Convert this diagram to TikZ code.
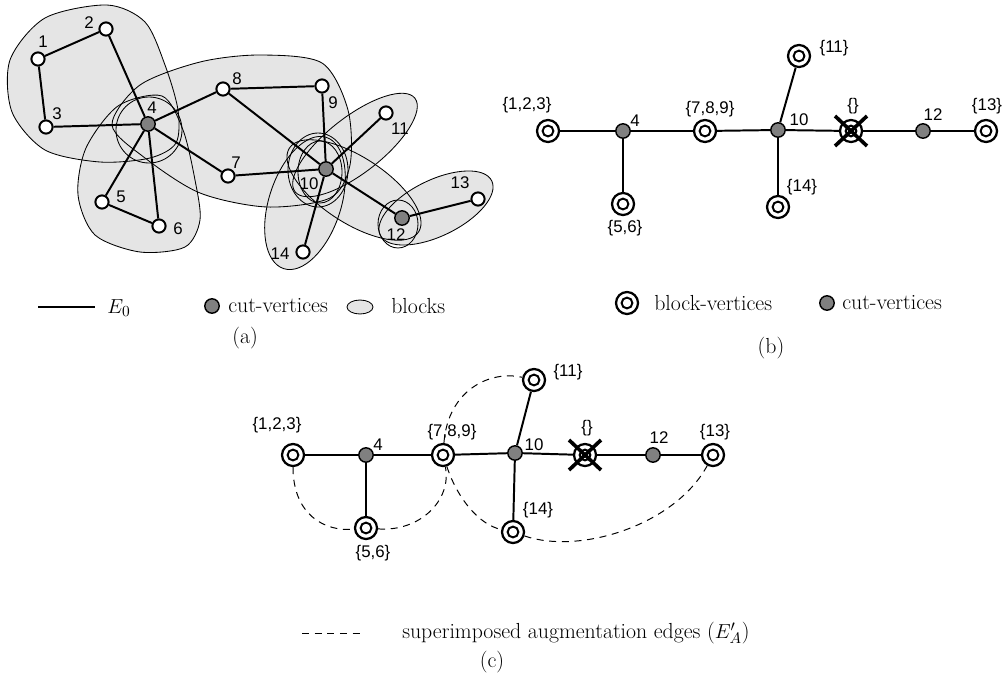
\documentclass[tikz,border=0pt]{standalone}
\usepackage{fontspec}
\newfontfamily\arialfont{Liberation Sans}
\tikzset{
  vtx/.style={circle, draw, fill=white, line width=1.4pt, minimum size=0.33cm, inner sep=0pt},
  cutv/.style={circle, draw, fill=gray, line width=1pt, minimum size=0.36cm, inner sep=0pt},
  blockv/.style={circle, draw, fill=white, line width=1.6pt, minimum size=0.55cm, inner sep=0pt,
    path picture={\draw[line width=1.4pt] (path picture bounding box.center) circle (0.135cm);}},
  lbl/.style={font=\arialfont\fontsize{12}{14}\selectfont, inner sep=0pt},
  txt/.style={font=\fontsize{15.5}{18}\selectfont\addfontfeatures{LetterSpace=5}, inner sep=0pt},
  tedge/.style={line width=1.4pt},
  blobline/.style={line width=0.6pt},
  aug/.style={line width=0.7pt, dash pattern=on 5pt off 4pt},
}
\begin{document}
\begin{tikzpicture}[x=0.025cm, y=-0.025cm]
    \useasboundingbox (0,0) rectangle (1007,684);

    % (a) blocks, filled first
    \def\blobA{plot[smooth cycle] coordinates {(107,5) (145,22) (165,65) (178,110) (176,143) (150,158) (100,162) (45,150) (12,112) (10,60) (45,18)}}
    \def\blobB{plot[smooth cycle] coordinates {(118,106) (162,96) (183,130) (195,180) (200,220) (185,247) (140,252) (95,235) (78,195) (86,148)}}
    \def\blobC{plot[smooth cycle] coordinates {(112,125) (140,85) (200,62) (260,55) (322,63) (348,110) (350,165) (330,198) (267,207) (200,193) (145,158)}}
    \fill[gray!20] \blobA;
    \fill[gray!20] \blobB;
    \fill[gray!20] \blobC;
    \fill[gray!20, rotate around={38:(355,145)}] (355,145) ellipse [x radius=76, y radius=28];
    \fill[gray!20, rotate around={72:(305,203)}] (305,203) ellipse [x radius=69, y radius=36];
    \fill[gray!20, rotate around={-33:(354,190)}] (354,190) ellipse [x radius=77, y radius=33];
    \fill[gray!20, rotate around={26:(436,208)}] (436,208) ellipse [x radius=62, y radius=28];

    % (a) block outlines
    \draw[blobline] \blobA;
    \draw[blobline] \blobB;
    \draw[blobline] \blobC;
    \draw[blobline, rotate around={38:(355,145)}] (355,145) ellipse [x radius=76, y radius=28];
    \draw[blobline, rotate around={72:(305,203)}] (305,203) ellipse [x radius=69, y radius=36];
    \draw[blobline, rotate around={-33:(354,190)}] (354,190) ellipse [x radius=77, y radius=33];
    \draw[blobline, rotate around={26:(436,208)}] (436,208) ellipse [x radius=62, y radius=28];
    \draw[blobline] (149,130) ellipse [x radius=33, y radius=33];
    \draw[blobline] (318,170) ellipse [x radius=30, y radius=37];
    \draw[blobline] (320,172) ellipse [x radius=22, y radius=31];
    \draw[blobline] (398,224) ellipse [x radius=20, y radius=24];

    % (a) vertices
    \node[vtx] (a1) at (38,59) {};
    \node[vtx] (a2) at (106,29) {};
    \node[vtx] (a3) at (46,127) {};
    \node[cutv] (a4) at (148,124) {};
    \node[vtx] (a5) at (102,202) {};
    \node[vtx] (a6) at (159,226) {};
    \node[vtx] (a7) at (228,176) {};
    \node[vtx] (a8) at (223,89) {};
    \node[vtx] (a9) at (322,86) {};
    \node[cutv] (a10) at (326,169) {};
    \node[vtx] (a11) at (386,113) {};
    \node[cutv] (a12) at (402,218) {};
    \node[vtx] (a13) at (478,199) {};
    \node[vtx] (a14) at (303,252) {};

    % (a) edges
    \draw[tedge] (a1) -- (a2);
    \draw[tedge] (a1) -- (a3);
    \draw[tedge] (a3) -- (a4);
    \draw[tedge] (a2) -- (a4);
    \draw[tedge] (a4) -- (a5);
    \draw[tedge] (a4) -- (a6);
    \draw[tedge] (a5) -- (a6);
    \draw[tedge] (a4) -- (a8);
    \draw[tedge] (a4) -- (a7);
    \draw[tedge] (a8) -- (a9);
    \draw[tedge] (a8) -- (a10);
    \draw[tedge] (a7) -- (a10);
    \draw[tedge] (a9) -- (a10);
    \draw[tedge] (a10) -- (a11);
    \draw[tedge] (a10) -- (a14);
    \draw[tedge] (a10) -- (a12);
    \draw[tedge] (a12) -- (a13);

    % (a) vertex numbers
    \node[lbl] (n1) at (43,42) {1};
    \node[lbl] (n2) at (89,23) {2};
    \node[lbl] (n3) at (57,114) {3};
    \node[lbl] (n4) at (152,108) {4};
    \node[lbl] (n5) at (121,197) {5};
    \node[lbl] (n6) at (178,229) {6};
    \node[lbl] (n7) at (236,163) {7};
    \node[lbl] (n8) at (237,79) {8};
    \node[lbl] (n9) at (333,103) {9};
    \node[lbl] (n10) at (309,184) {10};
    \node[lbl] (n11) at (400,129) {11};
    \node[lbl] (n12) at (396,235) {12};
    \node[lbl] (n13) at (460,183) {13};
    \node[lbl] (n14) at (280,254) {14};

    % (a) legend
    \coordinate (e0a) at (38,307);
    \coordinate (e0b) at (95,307);
    \draw[tedge] (e0a) -- (e0b);
    \node[txt] (e0) at (119,308) {$E_0$};
    \node[cutv] (lgcut) at (212,306) {};
    \node[txt, anchor=west] (lgcuttxt) at (228,306) {cut-vertices};
    \draw[blobline, fill=gray!20] (360,307) ellipse [x radius=13, y radius=7];
    \node[txt, anchor=west] (lgblk) at (391,306) {blocks};
    \node[txt] (capa) at (245,338) {(a)};

    % (b) block tree
    \node[blockv] (b123) at (548,131) {};
    \node[cutv] (b4) at (623,131) {};
    \node[blockv] (b56) at (623,204) {};
    \node[blockv] (b789) at (705,131) {};
    \node[cutv] (b10) at (778,130) {};
    \node[blockv] (b11) at (799,56) {};
    \node[blockv] (b14) at (778,207) {};
    \node[blockv] (bX) at (851,131) {};
    \node[cutv] (b12) at (923,131) {};
    \node[blockv] (b13) at (986,131) {};
    \draw[tedge] (b123) -- (b4);
    \draw[tedge] (b4) -- (b789);
    \draw[tedge] (b789) -- (b10);
    \draw[tedge] (b10) -- (bX);
    \draw[tedge] (bX) -- (b12);
    \draw[tedge] (b12) -- (b13);
    \draw[tedge] (b4) -- (b56);
    \draw[tedge] (b10) -- (b11);
    \draw[tedge] (b10) -- (b14);
    \draw[line width=2.6pt] (bX.center) ++(-16,-15) -- ++(32,30);
    \draw[line width=2.6pt] (bX.center) ++(-16,15) -- ++(32,-30);

    \node[lbl] (lb123) at (527,105) {\{1,2,3\}};
    \node[lbl] (lb4) at (635,121) {4};
    \node[lbl] (lb56) at (625,228) {\{5,6\}};
    \node[lbl] (lb789) at (710,109) {\{7,8,9\}};
    \node[lbl] (lb10) at (799,120) {10};
    \node[lbl] (lb11) at (834,48) {\{11\}};
    \node[lbl] (lb14) at (802,187) {\{14\}};
    \node[lbl] (lbX) at (853,106) {\{\}};
    \node[lbl] (lb12) at (933,115) {12};
    \node[lbl] (lb13) at (987,106) {\{13\}};

    % (b) legend
    \node[blockv] (lgblockv) at (627,303) {};
    \node[txt, anchor=west] (lgblockvtxt) at (654,303) {block-vertices};
    \node[cutv] (lgcutb) at (827,303) {};
    \node[txt, anchor=west] (lgcutbtxt) at (842,303) {cut-vertices};
    \node[txt] (capb) at (771,348) {(b)};

    % (c) block tree with augmentation
    \node[blockv] (c123) at (293,455) {};
    \node[cutv] (c4) at (366,455) {};
    \node[blockv] (c56) at (366,528) {};
    \node[blockv] (c789) at (443,455) {};
    \node[cutv] (c10) at (515,453) {};
    \node[blockv] (c11) at (534,380) {};
    \node[blockv] (c14) at (513,532) {};
    \node[blockv] (cX) at (585,455) {};
    \node[cutv] (c12) at (653,455) {};
    \node[blockv] (c13) at (713,455) {};
    \draw[tedge] (c123) -- (c4);
    \draw[tedge] (c4) -- (c789);
    \draw[tedge] (c789) -- (c10);
    \draw[tedge] (c10) -- (cX);
    \draw[tedge] (cX) -- (c12);
    \draw[tedge] (c12) -- (c13);
    \draw[tedge] (c4) -- (c56);
    \draw[tedge] (c10) -- (c11);
    \draw[tedge] (c10) -- (c14);
    \draw[line width=2.6pt] (cX.center) ++(-16,-15) -- ++(32,30);
    \draw[line width=2.6pt] (cX.center) ++(-16,15) -- ++(32,-30);

    % augmentation edges
    \draw[aug] (c123) .. controls (293,515) and (325,532) .. (c56);
    \draw[aug] (c56) .. controls (420,532) and (452,500) .. (c789);
    \draw[aug] (c789) .. controls (448,390) and (490,370) .. (c11);
    \draw[aug] (c789) .. controls (458,500) and (480,525) .. (c14);
    \draw[aug] (c14) .. controls (580,555) and (675,525) .. (c13);

    \node[lbl] (lc123) at (277,425) {\{1,2,3\}};
    \node[lbl] (lc4) at (378,445) {4};
    \node[lbl] (lc56) at (373,553) {\{5,6\}};
    \node[lbl] (lc789) at (452,432) {\{7,8,9\}};
    \node[lbl] (lc10) at (534,445) {10};
    \node[lbl] (lc11) at (568,372) {\{11\}};
    \node[lbl] (lc14) at (538,510) {\{14\}};
    \node[lbl] (lcX) at (587,428) {\{\}};
    \node[lbl] (lc12) at (659,438) {12};
    \node[lbl] (lc13) at (715,432) {\{13\}};

    % (c) legend
    \coordinate (augA) at (302,633);
    \coordinate (augB) at (364,633);
    \draw[aug] (augA) -- (augB);
    \node[txt, anchor=west] (lgaug) at (402,633) {superimposed augmentation edges ($E'_A$)};
    \node[txt] (capc) at (492,662) {(c)};
\end{tikzpicture}
\end{document}
